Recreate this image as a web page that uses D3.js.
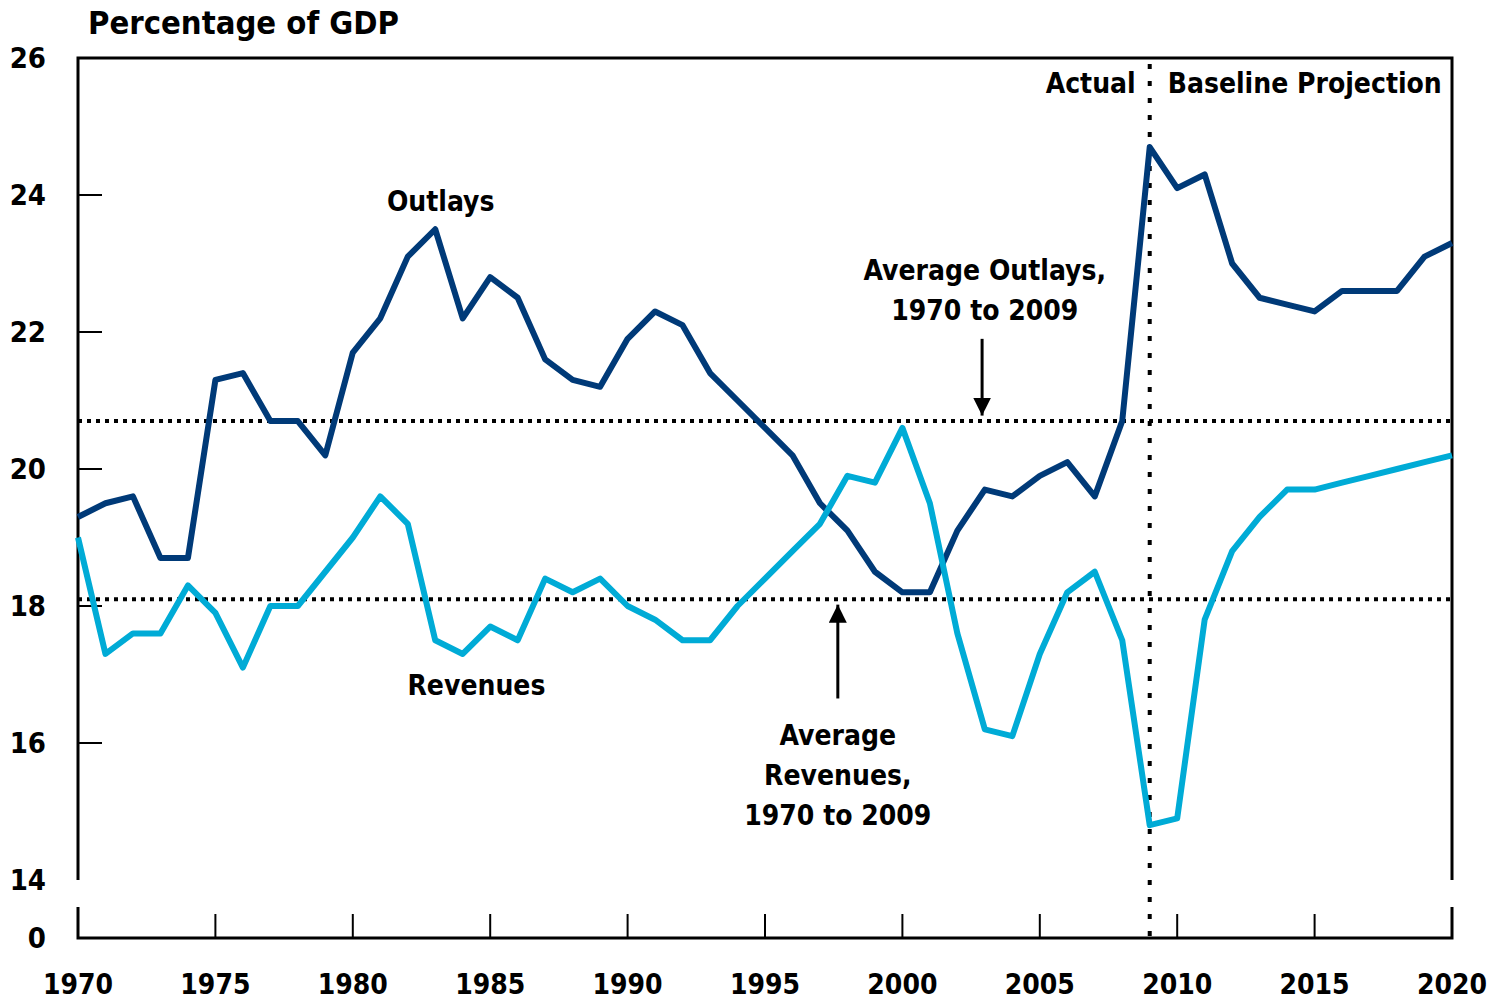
<!DOCTYPE html>
<html>
<head>
<meta charset="utf-8">
<script src="https://cdn.jsdelivr.net/npm/d3@7"></script>
<style>
  body { margin: 0; background: #fff; }
  text { font-family: "Liberation Sans Narrow", "DejaVu Sans Condensed", "Roboto", sans-serif; font-weight: bold; fill: #000; }
</style>
</head>
<body>
<div class="chart"></div>
<script>
var years = d3.range(1970, 2021);
var outlays = [19.3, 19.5, 19.6, 18.7, 18.7, 21.3, 21.4, 20.7, 20.7, 20.2,
               21.7, 22.2, 23.1, 23.5, 22.2, 22.8, 22.5, 21.6, 21.3, 21.2,
               21.9, 22.3, 22.1, 21.4, 21.0, 20.6, 20.2, 19.5, 19.1, 18.5,
               18.2, 18.2, 19.1, 19.7, 19.6, 19.9, 20.1, 19.6, 20.7, 24.7,
               24.1, 24.3, 23.0, 22.5, 22.4, 22.3, 22.6, 22.6, 22.6, 23.1, 23.3];
var revenues = [19.0, 17.3, 17.6, 17.6, 18.3, 17.9, 17.1, 18.0, 18.0, 18.5,
                19.0, 19.6, 19.2, 17.5, 17.3, 17.7, 17.5, 18.4, 18.2, 18.4,
                18.0, 17.8, 17.5, 17.5, 18.0, 18.4, 18.8, 19.2, 19.9, 19.8,
                20.6, 19.5, 17.6, 16.2, 16.1, 17.3, 18.2, 18.5, 17.5, 14.8,
                14.9, 17.8, 18.8, 19.3, 19.7, 19.7, 19.8, 19.9, 20.0, 20.1, 20.2];
var avgOutlays = 20.7;
var avgRevenues = 18.1;
var splitYear = 2009;
var yTicks = [14, 16, 18, 20, 22, 24, 26];
var xTicks = [1970, 1975, 1980, 1985, 1990, 1995, 2000, 2005, 2010, 2015, 2020];

var svgWidth = 1495, svgHeight = 1001;
var svg = d3.select(".chart").append("svg")
    .attr("width", svgWidth).attr("height", svgHeight);

var x = d3.scaleLinear().domain([1970, 2020]).range([78, 1452]);
var y = d3.scaleLinear().domain([14, 26]).range([880, 58]);
var zeroY = 938;
var breakTop = 907;

var darkBlue = "#003a78", lightBlue = "#00abd6";

// frame (top and right, left axis), broken below 14
var frame = svg.append("g").attr("stroke", "#000").attr("stroke-width", 3).attr("fill", "none");
frame.append("path").attr("d",
  "M" + x(1970) + "," + y(14) + "V" + y(26) + "H" + x(2020) + "V" + y(14));
frame.append("path").attr("d",
  "M" + x(1970) + "," + breakTop + "V" + zeroY + "H" + x(2020) + "V" + breakTop);

// y ticks (inward)
svg.append("g").selectAll("line").data(yTicks.filter(function(d) { return d > 14 && d < 26; }))
  .enter().append("line")
  .attr("x1", x(1970)).attr("x2", x(1970) + 24)
  .attr("y1", function(d) { return y(d); }).attr("y2", function(d) { return y(d); })
  .attr("stroke", "#000").attr("stroke-width", 2);

svg.append("g").selectAll("text").data(yTicks).enter().append("text")
  .attr("x", 46).attr("y", function(d) { return y(d); })
  .attr("dy", "0.35em").attr("text-anchor", "end")
  .style("font-size", "29px")
  .text(function(d) { return d; });
svg.append("text").attr("x", 46).attr("y", zeroY).attr("dy", "0.35em")
  .attr("text-anchor", "end").style("font-size", "29px").text("0");

// x ticks (upward)
svg.append("g").selectAll("line").data(xTicks.slice(1, -1)).enter().append("line")
  .attr("x1", function(d) { return x(d); }).attr("x2", function(d) { return x(d); })
  .attr("y1", zeroY).attr("y2", zeroY - 24)
  .attr("stroke", "#000").attr("stroke-width", 2);
svg.append("g").selectAll("text").data(xTicks).enter().append("text")
  .attr("x", function(d) { return x(d); }).attr("y", 994)
  .attr("text-anchor", "middle").style("font-size", "28px")
  .text(function(d) { return d; });

// average lines
[avgOutlays, avgRevenues].forEach(function(v) {
  svg.append("line")
    .attr("x1", x(1970)).attr("x2", x(2020))
    .attr("y1", y(v)).attr("y2", y(v))
    .attr("stroke", "#000").attr("stroke-width", 4)
    .attr("stroke-dasharray", "4,5");
});

// actual / projection divider
svg.append("line")
  .attr("x1", x(splitYear)).attr("x2", x(splitYear))
  .attr("y1", y(26) + 6).attr("y2", zeroY - 2)
  .attr("stroke", "#000").attr("stroke-width", 4)
  .attr("stroke-dasharray", "5,12");

// series
var line = d3.line()
  .x(function(d, i) { return x(years[i]); })
  .y(function(d) { return y(d); });
svg.append("path").datum(outlays).attr("d", line)
  .attr("fill", "none").attr("stroke", darkBlue).attr("stroke-width", 6)
  .attr("stroke-linejoin", "round");
svg.append("path").datum(revenues).attr("d", line)
  .attr("fill", "none").attr("stroke", lightBlue).attr("stroke-width", 6)
  .attr("stroke-linejoin", "round");

// arrows
svg.append("defs").append("marker")
  .attr("id", "arrow").attr("viewBox", "0 0 10 10")
  .attr("refX", 10).attr("refY", 5)
  .attr("markerWidth", 6).attr("markerHeight", 6)
  .attr("markerUnits", "strokeWidth")
  .attr("orient", "auto")
  .append("path").attr("d", "M0,0L10,5L0,10Z").attr("fill", "#000");

function arrow(year, fromV, toV) {
  svg.append("line")
    .attr("x1", x(year)).attr("x2", x(year))
    .attr("y1", y(fromV)).attr("y2", y(toV))
    .attr("stroke", "#000").attr("stroke-width", 3)
    .attr("marker-end", "url(#arrow)");
}
arrow(2002.9, 21.9, avgOutlays + 0.08);
arrow(1997.65, 16.65, avgRevenues - 0.08);

// labels
function label(tx, ty, str, anchor) {
  svg.append("text").attr("x", tx).attr("y", ty)
    .attr("text-anchor", anchor || "middle")
    .style("font-size", "28px").text(str);
}
svg.append("text").attr("x", 88).attr("y", 34)
  .style("font-size", "32.5px").text("Percentage of GDP");
label(x(1983.2), 211, "Outlays");
label(x(1984.5), 695, "Revenues");
label(x(2003), 280, "Average Outlays,");
label(x(2003), 320, "1970 to 2009");
label(x(1997.65), 745, "Average");
label(x(1997.65), 785, "Revenues,");
label(x(1997.65), 825, "1970 to 2009");
label(x(splitYear) - 14, 93, "Actual", "end");
label(x(splitYear) + 18, 93, "Baseline Projection", "start");
</script>
</body>
</html>
